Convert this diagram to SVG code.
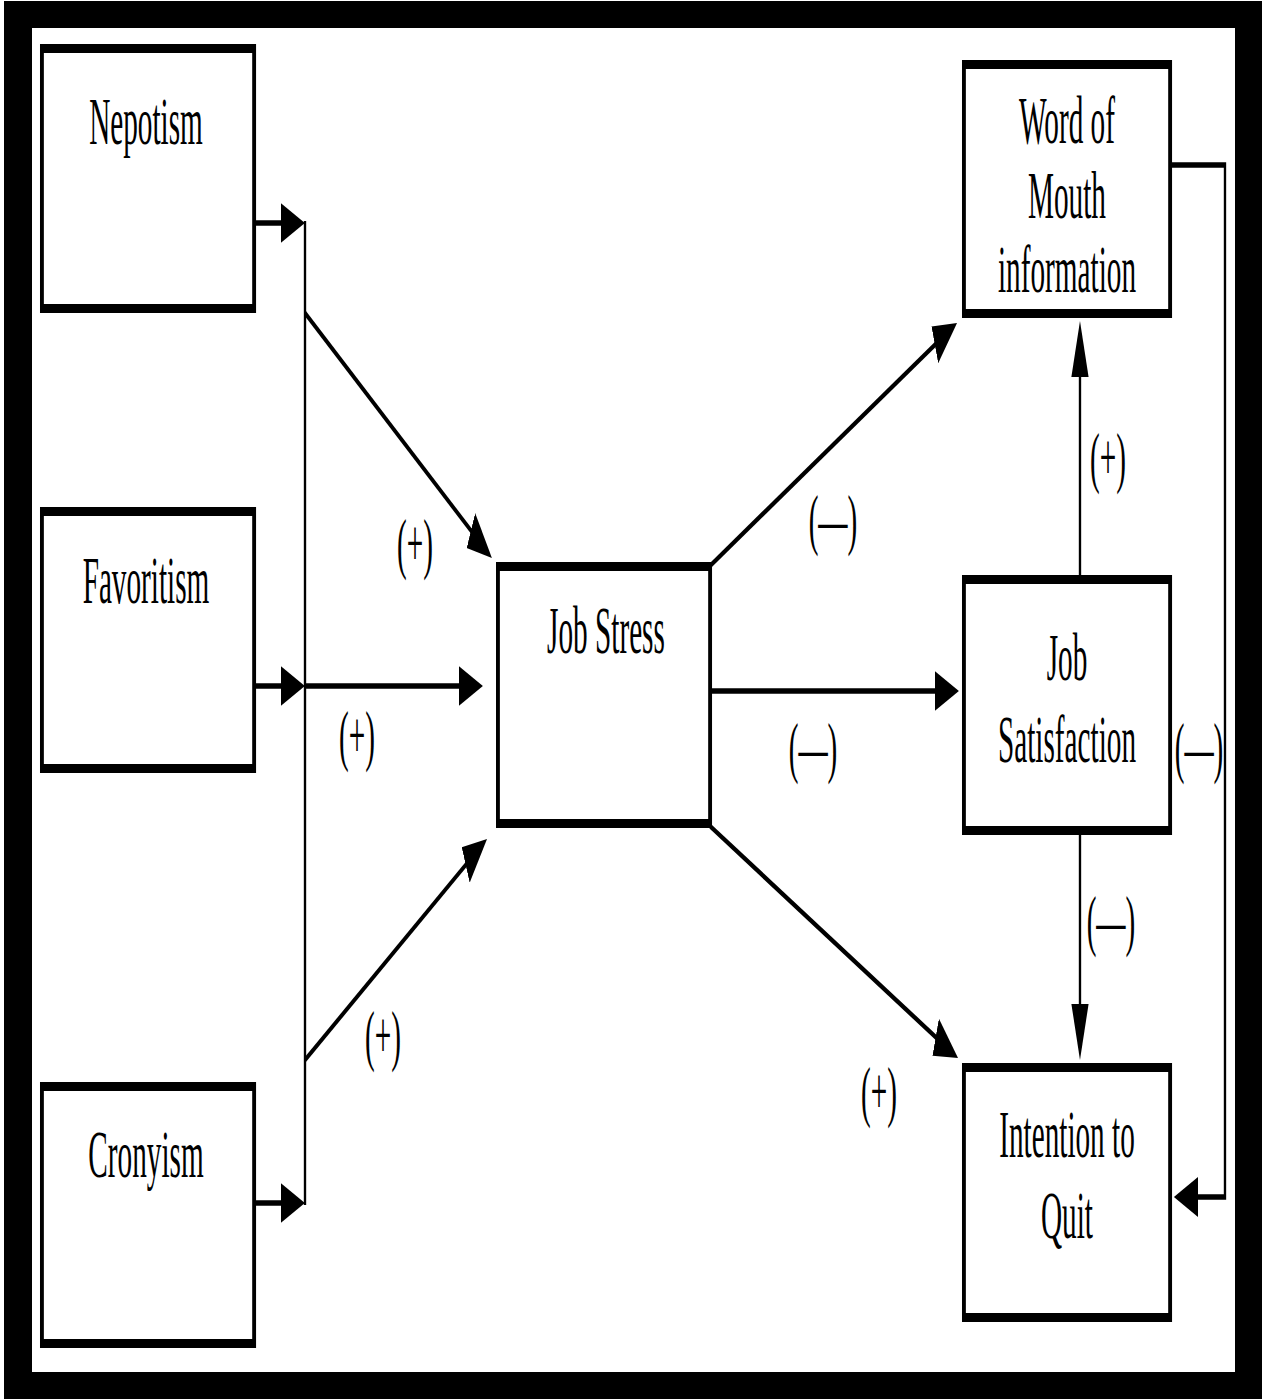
<svg xmlns="http://www.w3.org/2000/svg" width="1265" height="1399" viewBox="0 0 1265 1399">
  <style>
    .box { fill: #fff; stroke: #000; stroke-width: 9; }
    .txt { font-family: "Liberation Serif", "Times New Roman", serif; font-size: 68px; fill: #000; text-anchor: middle; }
    .wire { fill: none; stroke: #000; stroke-width: 5.5; }
    .arr { marker-end: url(#head); }
  </style>
  <defs>
    <marker id="head" markerUnits="userSpaceOnUse" markerWidth="60" markerHeight="44" viewBox="0 -22 60 44" refX="44" refY="0" orient="auto">
      <path d="M0,-20 L56,0 L0,20 z" fill="#000"/>
    </marker>
  </defs>

  <!-- page frame -->
  <rect x="0" y="0" width="1265" height="1399" fill="#fff"/>
  <rect x="4" y="1" width="1258" height="1398" fill="#000"/>
  <rect x="32" y="28" width="1203" height="1344" fill="#fff"/>

  <!-- the drawing is laid out in a horizontally condensed frame -->
  <g transform="scale(0.43 1)">
    <g id="connectors">
      <line class="wire arr" x1="591" y1="223" x2="697" y2="223"/>
      <line class="wire arr" x1="591" y1="686" x2="697" y2="686"/>
      <line class="wire arr" x1="591" y1="1203" x2="697" y2="1203"/>
      <line class="wire" x1="709.3" y1="221" x2="709.3" y2="1205"/>
      <line class="wire arr" x1="709.3" y1="313" x2="1133.5" y2="552.1"/>
      <line class="wire arr" x1="709.3" y1="686" x2="1111" y2="686"/>
      <line class="wire arr" x1="709.3" y1="1060" x2="1122" y2="844.6"/>
      <line class="wire arr" x1="1651" y1="566" x2="2214.6" y2="327.7"/>
      <line class="wire arr" x1="1651" y1="691" x2="2218" y2="691"/>
      <line class="wire arr" x1="1651" y1="826" x2="2216.8" y2="1053.5"/>
      <line class="wire arr" x1="2511.6" y1="575" x2="2511.6" y2="333"/>
      <line class="wire arr" x1="2511.6" y1="835" x2="2511.6" y2="1048"/>
      <path class="wire arr" d="M2721,165 H2848.8 V1197 H2742"/>

      <text class="txt" x="965.1" y="566">(+)</text>
      <text class="txt" x="830.2" y="758">(+)</text>
      <text class="txt" x="890.7" y="1058">(+)</text>
      <text class="txt" x="1937.2" y="542">(—)</text>
      <text class="txt" x="1890.7" y="770">(—)</text>
      <text class="txt" x="2044.2" y="1114">(+)</text>
      <text class="txt" x="2576.7" y="480">(+)</text>
      <text class="txt" x="2788.4" y="770">(—)</text>
      <text class="txt" x="2583.7" y="943">(—)</text>
    </g>

    <g id="nepotism">
      <rect class="box" x="97.5" y="48.5" width="493.5" height="260"/>
      <text class="txt" x="339.5" y="144">Nepotism</text>
    </g>
    <g id="favoritism">
      <rect class="box" x="97.5" y="511.5" width="493.5" height="257"/>
      <text class="txt" x="339.5" y="603">Favoritism</text>
    </g>
    <g id="cronyism">
      <rect class="box" x="97.5" y="1086.5" width="493.5" height="257"/>
      <text class="txt" x="339.5" y="1177">Cronyism</text>
    </g>
    <g id="job-stress">
      <rect class="box" x="1158" y="566.5" width="493.4" height="257"/>
      <text class="txt" x="1409.3" y="653">Job Stress</text>
    </g>
    <g id="word-of-mouth">
      <rect class="box" x="2241.7" y="64.5" width="479.5" height="249"/>
      <text class="txt" x="2481.4" y="143">Word of</text>
      <text class="txt" x="2481.4" y="218">Mouth</text>
      <text class="txt" x="2481.4" y="292">information</text>
    </g>
    <g id="job-satisfaction">
      <rect class="box" x="2241.7" y="579.5" width="479.5" height="251"/>
      <text class="txt" x="2481.4" y="680">Job</text>
      <text class="txt" x="2481.4" y="762">Satisfaction</text>
    </g>
    <g id="intention-to-quit">
      <rect class="box" x="2241.7" y="1067.5" width="479.5" height="250"/>
      <text class="txt" x="2481.4" y="1157">Intention to</text>
      <text class="txt" x="2481.4" y="1238">Quit</text>
    </g>
  </g>
</svg>
